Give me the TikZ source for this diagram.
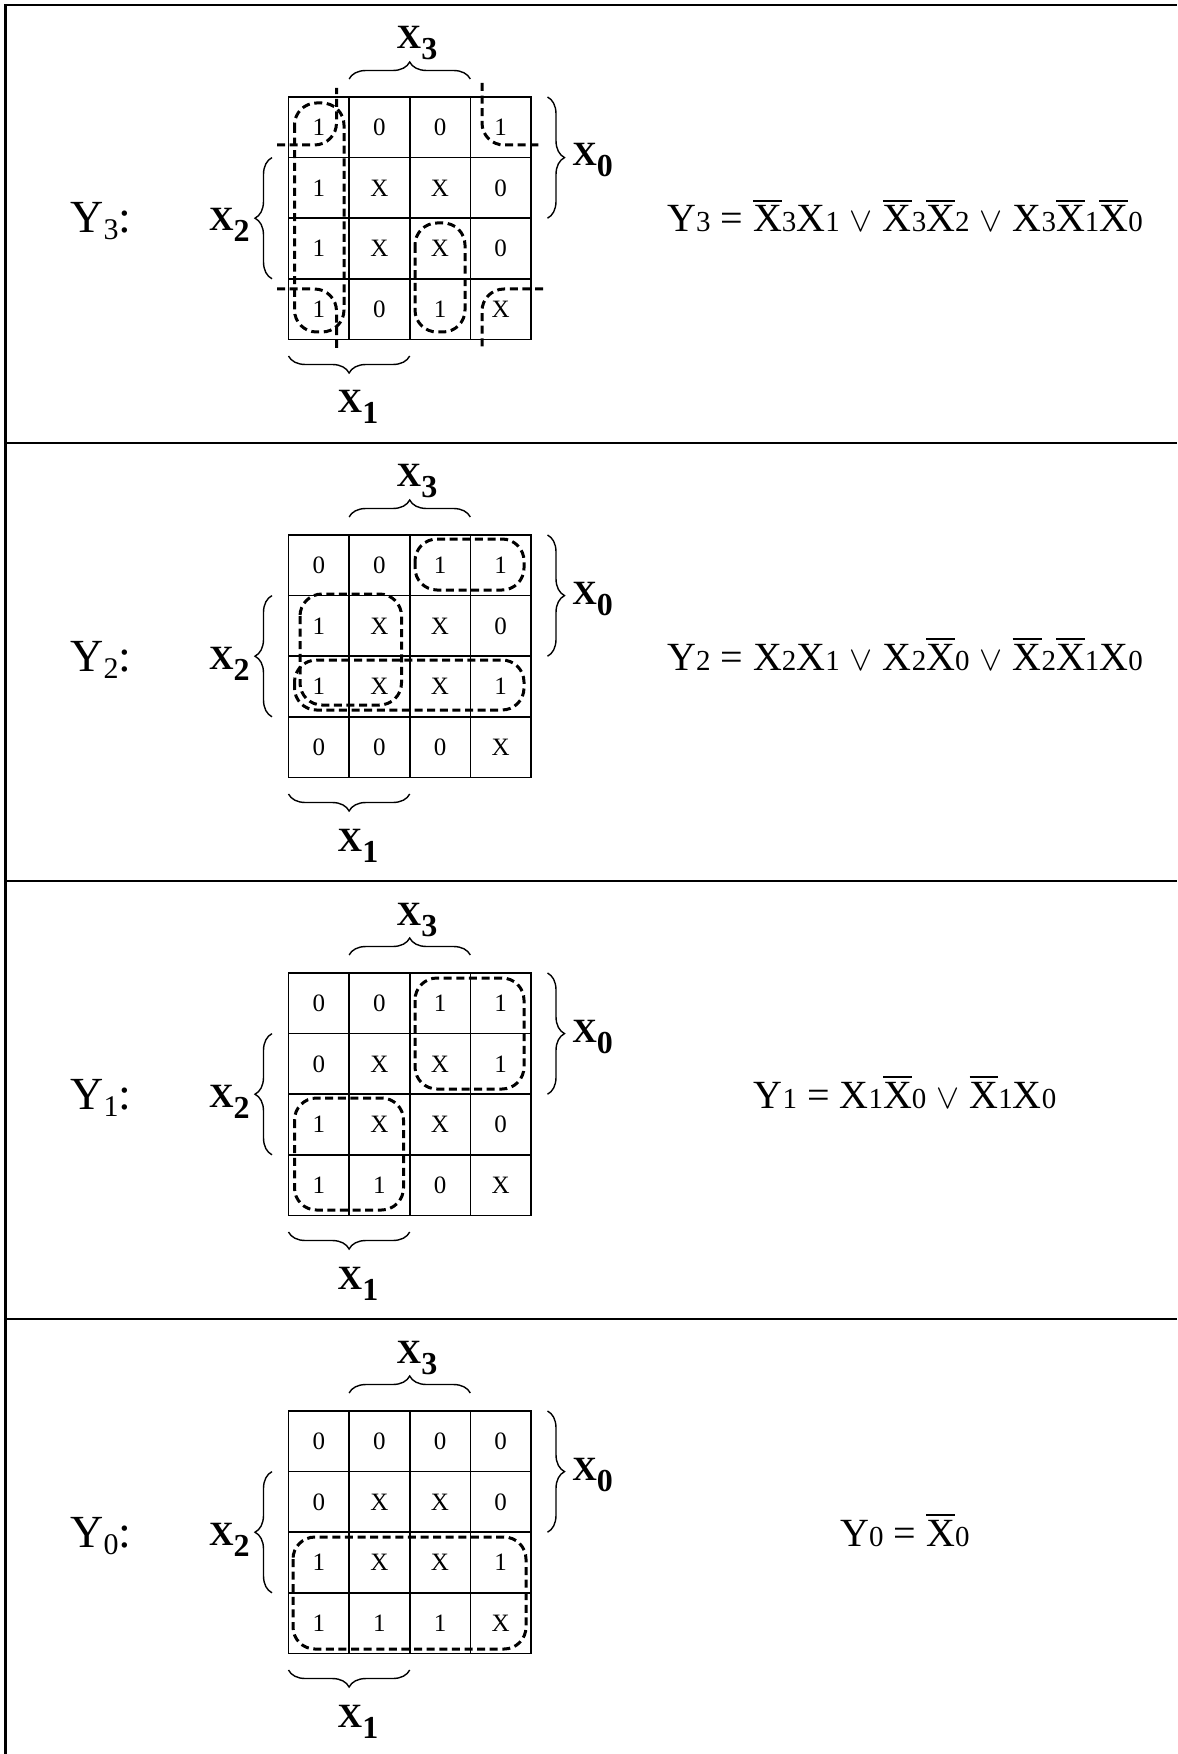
\documentclass[tikz,border=0pt]{standalone}
\usepackage{fontspec}
\setmainfont{Liberation Serif}
\usetikzlibrary{positioning,decorations.pathreplacing}

\newcommand{\xsub}[1]{X\raisebox{-5.5pt}{\fontsize{16}{16}\selectfont\bfseries #1}}
\newcommand{\ysub}[1]{Y\raisebox{-3.5pt}{\fontsize{15}{15}\selectfont #1}:}
\newcommand{\dg}[1]{{\fontsize{14.5}{14}\selectfont #1}}
\newcommand{\nx}{\vbox{\hrule height 0.8pt\kern 2pt\hbox{X}}}
\newcommand{\disj}{{\fontsize{17}{17}\selectfont$\vee$}}

\tikzset{
  frame/.style={line width=1.2pt},
  cell/.style={draw,line width=0.8pt,minimum width=30.3pt,minimum height=30.3pt,
               inner sep=0pt,font=\fontsize{12.5}{14}\selectfont},
  group/.style={line width=1.5pt,dash pattern=on 4pt off 2.3pt,rounded corners=11pt},
  kbrace/.style={decorate,decoration={brace,amplitude=8.5pt},line width=0.7pt},
  var/.style={inner sep=0pt,font=\fontsize{17}{20}\selectfont\bfseries},
  fname/.style={inner sep=0pt,anchor=base west,font=\fontsize{23}{26}\selectfont},
  eqn/.style={inner sep=0pt,anchor=base,font=\fontsize{20}{24}\selectfont},
}

\begin{document}
\begin{tikzpicture}[x=0.5pt,y=-0.5pt]
  \useasboundingbox (0,0) rectangle (1177,1754);

  %,  Frame, 
  \draw[frame] (5.5,1754) -- (5.5,5) -- (1177,5);
  \foreach \i in {1,2,3}
    \draw[frame] (5.5,5+438*\i) -- (1177,5+438*\i);

  %,  Karnaugh maps, 
  \foreach \i/\n/\vals in {
    0/3/{1,0,0,1,1,X,X,0,1,X,X,0,1,0,1,X},
    1/2/{0,0,1,1,1,X,X,0,1,X,X,1,0,0,0,X},
    2/1/{0,0,1,1,0,X,X,1,1,X,X,0,1,1,0,X},
    3/0/{0,0,0,0,0,X,X,0,1,X,X,1,1,1,1,X}%
  }
  {
    \begin{scope}[shift={(0,5+438*\i)}]
      \foreach \v [count=\k from 0] in \vals {
        \pgfmathtruncatemacro{\r}{int(\k/4)}
        \pgfmathtruncatemacro{\c}{mod(\k,4)}
        \node[cell] (m\n-\r\c) at (318.8+60.6*\c,122.3+60.6*\r) {\v};
      }
      \draw[kbrace] (349.1,74) -- (470.3,74);
      \draw[kbrace] (547.5,92) -- (547.5,213.2);
      \draw[kbrace] (272,273.8) -- (272,152.6);
      \draw[kbrace] (409.7,351) -- (288.5,351);
      \node[var,anchor=base] (x3-\n) at (417,44) {\xsub{3}};
      \node[var,anchor=base west] (x0-\n) at (572,161) {\xsub{0}};
      \node[var,anchor=base east] (x2-\n) at (250,226) {\xsub{2}};
      \node[var,anchor=base] (x1-\n) at (358,408) {\xsub{1}};
      \node[fname] (y-\n) at (70,228) {\ysub{\n}};
    \end{scope}
  }

  %,  Groups, 
  \begin{scope}[shift={(0,5)}]
    \draw[group] (294.5,98) rectangle (344,327);
    \draw[group] (415,218) rectangle (465,327);
    \draw[group] (277,140) -- (336.5,140) -- (336.5,83);
    \draw[group] (277,284) -- (336.5,284) -- (336.5,345);
    \draw[group] (482,78) -- (482,140) -- (539,140);
    \draw[group] (543,284) -- (482,284) -- (482,342);
  \end{scope}
  \begin{scope}[shift={(0,443)}]
    \draw[group] (415,96) rectangle (524,147);
    \draw[group] (300,151) rectangle (401.5,262);
    \draw[group] (294.5,217) rectangle (524,267);
  \end{scope}
  \begin{scope}[shift={(0,881)}]
    \draw[group] (415,97) rectangle (524,208);
    \draw[group] (294.5,217) rectangle (403.5,329);
  \end{scope}
  \begin{scope}[shift={(0,1319)}]
    \draw[group] (293,218) rectangle (526,330);
  \end{scope}

  %,  Equations, 
  \node[eqn] (eq3) at (905,232)
    {Y\dg{3} = \nx\dg{3}X\dg{1} \disj{} \nx\dg{3}\nx\dg{2} \disj{} X\dg{3}\nx\dg{1}\nx\dg{0}};
  \node[eqn] (eq2) at (905,670)
    {Y\dg{2} = X\dg{2}X\dg{1} \disj{} X\dg{2}\nx\dg{0} \disj{} \nx\dg{2}\nx\dg{1}X\dg{0}};
  \node[eqn] (eq1) at (905,1108)
    {Y\dg{1} = X\dg{1}\nx\dg{0} \disj{} \nx\dg{1}X\dg{0}};
  \node[eqn] (eq0) at (905,1546)
    {Y\dg{0} = \nx\dg{0}};

\end{tikzpicture}
\end{document}
